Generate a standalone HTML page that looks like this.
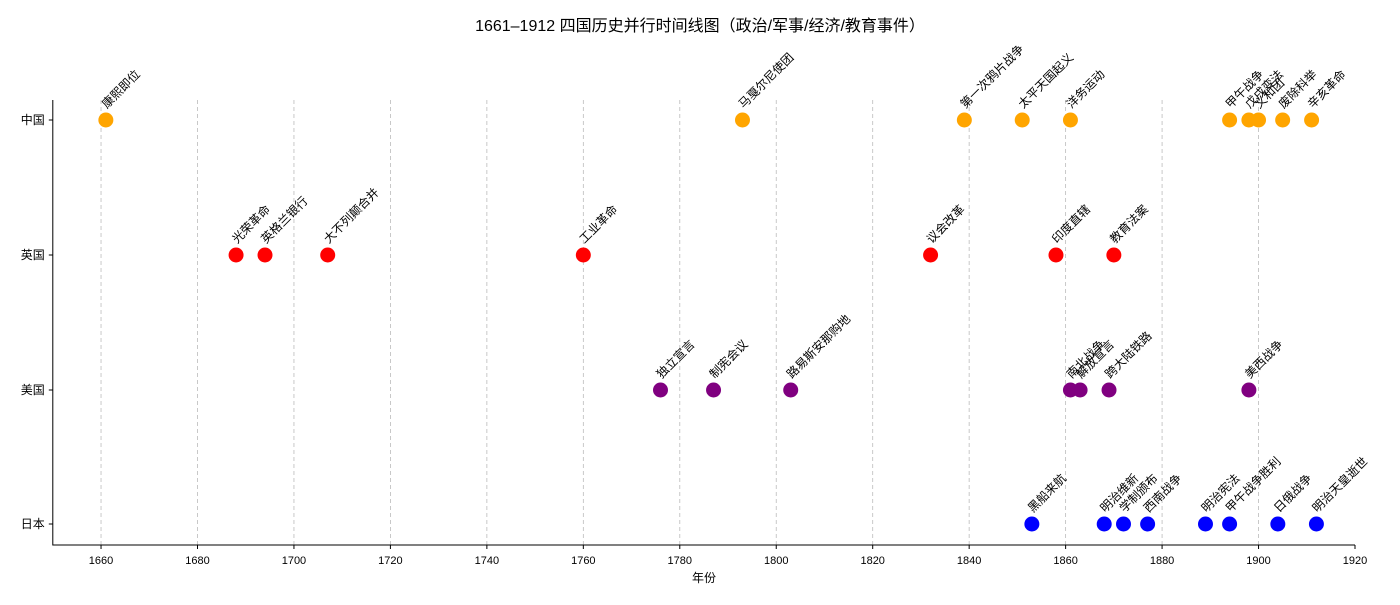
<!DOCTYPE html>
<html><head><meta charset="utf-8"><style>
body{margin:0;background:#fff;}
text{font-family:"Liberation Sans","Noto Sans CJK SC",sans-serif;}
</style></head><body>
<svg id="c" width="1400" height="600" xmlns="http://www.w3.org/2000/svg"></svg>
<script>
const countries=["中国","英国","美国","日本"];
const colors=["orange","red","purple","blue"];
const chinaYears=[1661,1793,1839,1851,1861,1894,1898,1900,1905,1911];
const chinaEvents=["康熙即位","马戛尔尼使团","第一次鸦片战争","太平天国起义","洋务运动","甲午战争","戊戌变法","义和团","废除科举","辛亥革命"];
const ukYears=[1688,1694,1707,1760,1832,1858,1870];
const ukEvents=["光荣革命","英格兰银行","大不列颠合并","工业革命","议会改革","印度直辖","教育法案"];
const usYears=[1776,1787,1803,1861,1863,1869,1898];
const usEvents=["独立宣言","制宪会议","路易斯安那购地","南北战争","解放宣言","跨大陆铁路","美西战争"];
const jpYears=[1853,1868,1872,1877,1889,1894,1904,1912];
const jpEvents=["黑船来航","明治维新","学制颁布","西南战争","明治宪法","甲午战争胜利","日俄战争","明治天皇逝世"];
const xTicks=[1660,1680,1700,1720,1740,1760,1780,1800,1820,1840,1860,1880,1900,1920];

const svg=document.getElementById('c');
const NS="http://www.w3.org/2000/svg";
const x0=52.8,x1=1355,yr0=1650,yr1=1920;
const X=v=>x0+(v-yr0)/(yr1-yr0)*(x1-x0);
const yPos=[120,255,390,524];
function el(t,a,p){const e=document.createElementNS(NS,t);for(const k in a)e.setAttribute(k,a[k]);(p||svg).appendChild(e);return e;}

const title=el('text',{x:700,y:31,'text-anchor':'middle','font-size':16});
title.textContent="1661–1912 四国历史并行时间线图（政治/军事/经济/教育事件）";



xTicks.forEach(t=>{
  if(t<1920){const g=el('line',{x1:X(t),x2:X(t),y1:100,y2:545,stroke:'#bbb','stroke-dasharray':'4,3','stroke-width':0.8});
  
  }
  const tk=el('line',{x1:X(t),x2:X(t),y1:545,y2:549,stroke:'#000'});
  
  
  const l=el('text',{x:X(t),y:564,'text-anchor':'middle','font-size':11});
  l.textContent=t;
  
  
});
const ax=el('path',{d:`M${x0},100 V545 H${x1}`,fill:'none',stroke:'#000','stroke-width':1});


const xt=el('text',{x:704,y:582,'text-anchor':'middle','font-size':12});
xt.textContent="年份";



countries.forEach((c,i)=>{
  const tk=el('line',{x1:x0-4,x2:x0,y1:yPos[i],y2:yPos[i],stroke:'#000'});
  
  
  const l=el('text',{x:x0-8,y:yPos[i]+4,'text-anchor':'end','font-size':12});
  l.textContent=c;
  
  
});

const series=[[chinaYears,chinaEvents],[ukYears,ukEvents],[usYears,usEvents],[jpYears,jpEvents]];
series.forEach((s,i)=>{
  s[0].forEach((yr,j)=>{
    const cx=X(yr),cy=yPos[i];
    const p=el('circle',{cx:cx,cy:cy,r:7.5,fill:colors[i]});
    
    
    const t=el('text',{x:cx+1,y:cy-11,'font-size':12,transform:`rotate(-45 ${cx+1} ${cy-11})`});
    t.textContent=s[1][j];
    
    
  });
});
</script>
</body></html>
